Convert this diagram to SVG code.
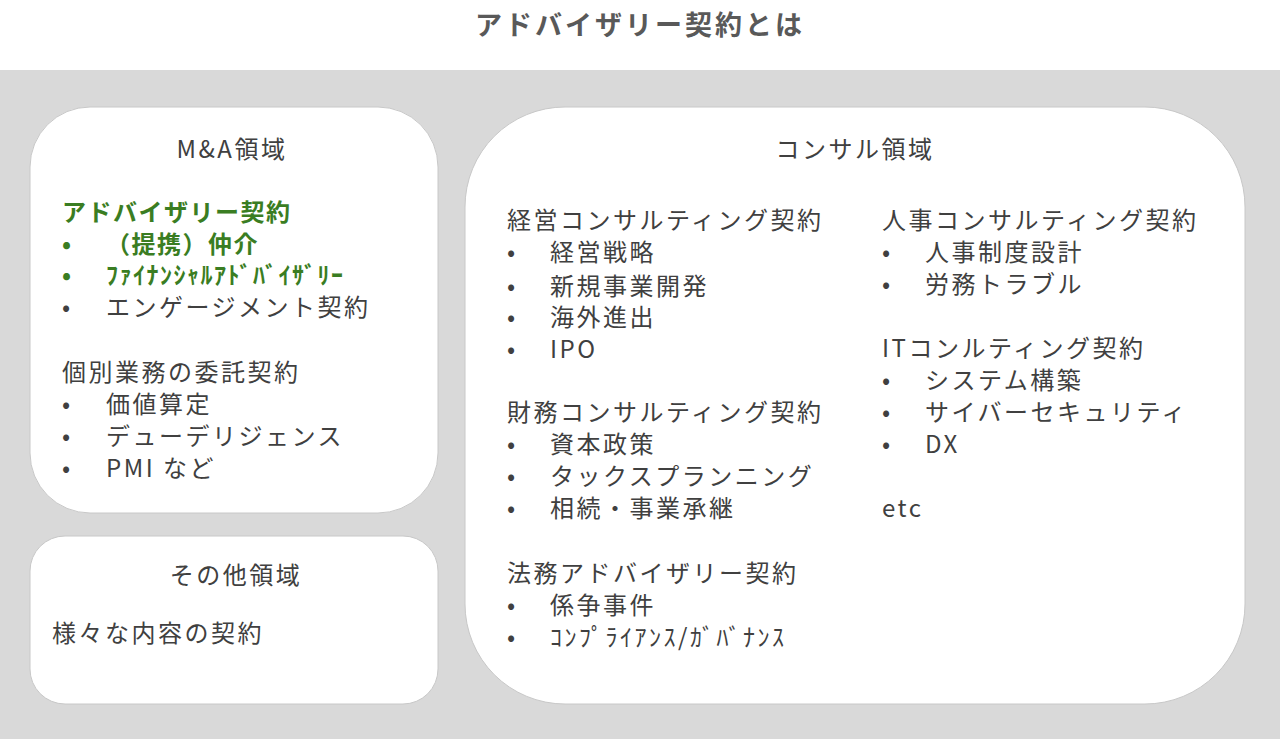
<svg xmlns="http://www.w3.org/2000/svg" width="1280" height="739" viewBox="0 0 1280 739">
<style>
text{font-family:"Noto Sans CJK JP","Noto Sans",sans-serif;font-size:24px;fill:#404040;letter-spacing:2.5px}
.t{font-size:27px;font-weight:bold;fill:#595959;letter-spacing:3px}
.g{fill:#3a7d22;font-weight:bold;letter-spacing:1.5px}
.box{fill:#fff;stroke:#c8c8c8;stroke-width:1}
</style>
<rect width="1280" height="739" fill="#fff"/>
<rect y="70" width="1280" height="669" fill="#d9d9d9"/>
<text class="t" x="640" y="35" text-anchor="middle">アドバイザリー契約とは</text>
<g id="ma">
<rect class="box" x="30" y="107" width="408" height="406" rx="60"/>
<text x="232" y="158" text-anchor="middle">M&amp;A領域</text>
<text class="g" x="62" y="221">アドバイザリー契約</text>
<text class="g" x="62" y="253">•</text><text class="g" x="106" y="253">（提携）仲介</text>
<text class="g" x="62" y="284">•</text><text class="g" x="106" y="284">ﾌｧｲﾅﾝｼｬﾙｱﾄﾞﾊﾞｲｻﾞﾘｰ</text>
<text x="62" y="316">•</text><text x="106" y="316">エンゲージメント契約</text>
<text x="62" y="381">個別業務の委託契約</text>
<text x="62" y="413">•</text><text x="106" y="413">価値算定</text>
<text x="62" y="445">•</text><text x="106" y="445">デューデリジェンス</text>
<text x="62" y="477">•</text><text x="106" y="477">PMI など</text>
</g>
<g id="other">
<rect class="box" x="30" y="536" width="408" height="168" rx="35"/>
<text x="236" y="584" text-anchor="middle">その他領域</text>
<text x="52" y="642">様々な内容の契約</text>
</g>
<g id="consul">
<rect class="box" x="465" y="107" width="780" height="597" rx="100"/>
<text x="855" y="158" text-anchor="middle">コンサル領域</text>
<text x="507" y="229">経営コンサルティング契約</text>
<text x="507" y="261">•</text><text x="550" y="261">経営戦略</text>
<text x="507" y="295">•</text><text x="550" y="295">新規事業開発</text>
<text x="507" y="326">•</text><text x="550" y="326">海外進出</text>
<text x="507" y="358">•</text><text x="550" y="358">IPO</text>
<text x="507" y="421">財務コンサルティング契約</text>
<text x="507" y="453">•</text><text x="550" y="453">資本政策</text>
<text x="507" y="485">•</text><text x="550" y="485">タックスプランニング</text>
<text x="507" y="517">•</text><text x="550" y="517">相続・事業承継</text>
<text x="507" y="582">法務アドバイザリー契約</text>
<text x="507" y="614">•</text><text x="550" y="614">係争事件</text>
<text x="507" y="646">•</text><text x="550" y="646">ｺﾝﾌﾟﾗｲｱﾝｽ/ｶﾞﾊﾞﾅﾝｽ</text>
<text x="882" y="229">人事コンサルティング契約</text>
<text x="882" y="261">•</text><text x="925" y="261">人事制度設計</text>
<text x="882" y="293">•</text><text x="925" y="293">労務トラブル</text>
<text x="882" y="357">ITコンルティング契約</text>
<text x="882" y="389">•</text><text x="925" y="389">システム構築</text>
<text x="882" y="421">•</text><text x="925" y="421">サイバーセキュリティ</text>
<text x="882" y="453">•</text><text x="925" y="453">DX</text>
<text x="882" y="517">etc</text>
</g>
</svg>
